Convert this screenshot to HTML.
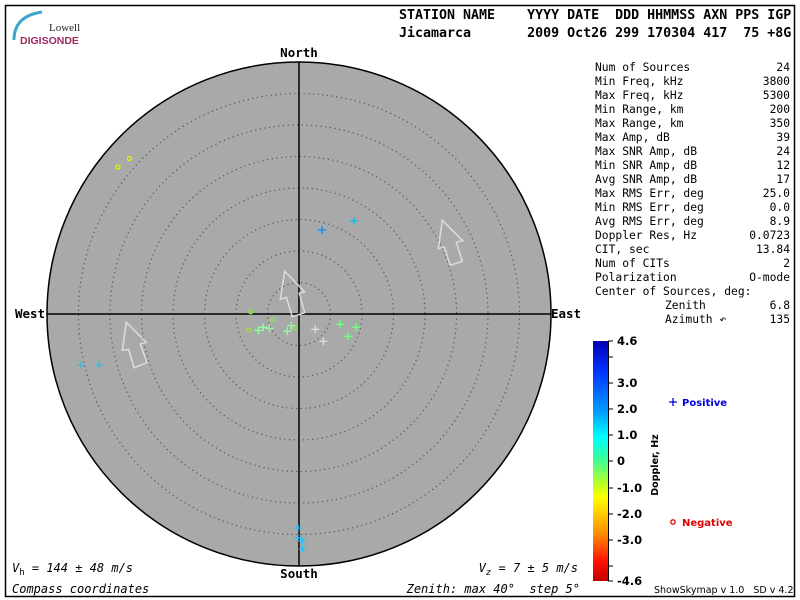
<!DOCTYPE html>
<html><head><meta charset="utf-8"><style>
html,body{margin:0;padding:0;background:#fff}
svg{display:block}
.m{font-family:"DejaVu Sans Mono","Liberation Mono",monospace}
.pre{white-space:pre}
</style></head><body>
<svg width="800" height="600" viewBox="0 0 800 600" xmlns="http://www.w3.org/2000/svg">
<defs>
<linearGradient id="cb" x1="0" y1="0" x2="0" y2="1">
<stop offset="0" stop-color="#0000b0"/>
<stop offset="0.12" stop-color="#0030ff"/>
<stop offset="0.3" stop-color="#00a0ff"/>
<stop offset="0.4" stop-color="#00ffff"/>
<stop offset="0.5" stop-color="#40ff90"/>
<stop offset="0.6" stop-color="#c0ff20"/>
<stop offset="0.65" stop-color="#ffff00"/>
<stop offset="0.8" stop-color="#ff9000"/>
<stop offset="0.92" stop-color="#ff1000"/>
<stop offset="1" stop-color="#c00000"/>
</linearGradient>
</defs>
<rect x="5.5" y="5.5" width="789" height="591" fill="none" stroke="#000" stroke-width="1.5"/>
<!-- logo -->
<path d="M14,40 Q14,16 42,12" fill="none" stroke="#3fa5c8" stroke-width="3"/>
<text x="49" y="31" font-family="Liberation Serif,serif" font-size="11" fill="#222">Lowell</text>
<text x="20" y="44" font-family="Liberation Sans,sans-serif" font-size="10.5" font-weight="bold" fill="#9b2a5e">DIGISONDE</text>
<!-- header -->
<g class="m" font-size="13.3" font-weight="bold" fill="#000">
<text class="pre" x="399" y="19">STATION NAME    YYYY DATE  DDD HHMMSS AXN PPS IGP</text>
<text class="pre" x="399" y="37">Jicamarca       2009 Oct26 299 170304 417  75 +8G</text>
</g>
<!-- plot -->
<circle cx="299" cy="314" r="252" fill="#a9a9a9" stroke="#000" stroke-width="1.5"/>
<g fill="none" stroke="#555" stroke-width="1.2" stroke-dasharray="1.2 3.5">
<circle cx="299" cy="314" r="31.5"/><circle cx="299" cy="314" r="63"/><circle cx="299" cy="314" r="94.5"/><circle cx="299" cy="314" r="126"/><circle cx="299" cy="314" r="157.5"/><circle cx="299" cy="314" r="189"/><circle cx="299" cy="314" r="220.5"/>
</g>
<line x1="47" y1="314" x2="551" y2="314" stroke="#000" stroke-width="1.5"/>
<line x1="299" y1="62" x2="299" y2="566" stroke="#000" stroke-width="1.5"/>
<g class="m" font-size="12.5" font-weight="bold" text-anchor="middle">
<text x="299" y="57">North</text><text x="299" y="578">South</text>
<text x="30" y="318">West</text><text x="566" y="318">East</text>
</g>
<g fill="none" stroke="#dcdcdc" stroke-width="1.5">
<polygon points="284.7,271.3 304.7,291.7 299.3,293.3 304.7,312.7 292.3,316.7 286.3,297.3 280.3,299.3"/>
<polygon points="126.3,322.3 146.3,342.3 140.3,344 147,362.7 134,367.7 128.7,349.3 122.3,350.3"/>
<polygon points="442.3,220.3 462.7,240.7 456.3,242.3 462.3,261.3 450.3,265.3 444.3,247 438.3,248.7"/>
</g>
<!-- points -->
<g fill="none" stroke-width="1.3">
<circle cx="118" cy="167" r="2" stroke="#e0f000"/><circle cx="129.5" cy="158.5" r="2" stroke="#e8f000"/>
<circle cx="250.7" cy="311.7" r="2" stroke="#90e040"/><circle cx="272.7" cy="320" r="2" stroke="#90e060"/>
<circle cx="248.7" cy="330" r="2" stroke="#a0e040"/><circle cx="294.7" cy="327.7" r="2" stroke="#90e060"/>
</g>
<g stroke-width="1.3">
<path d="M318,230h8M322,226v8" stroke="#0090ff"/>
<path d="M350,221h8M354,217v8" stroke="#00c0ff"/>
<path d="M77,365h8M81,361v8M95,365h8M99,361v8" stroke="#40b8e0"/>
<path d="M254.3,330.3h8M258.3,326.3v8M259.3,327.3h8M263.3,323.3v8M265.3,328.3h8M269.3,324.3v8M283.3,331.3h8M287.3,327.3v8M287.3,325.7h8M291.3,321.7v8" stroke="#90ffa0"/>
<path d="M311.3,329.3h8M315.3,325.3v8M319.3,341.3h8M323.3,337.3v8" stroke="#d0e8d0"/>
<path d="M336.3,324.3h8M340.3,320.3v8M344.3,336.3h8M348.3,332.3v8M352.3,327.3h8M356.3,323.3v8" stroke="#70ff80"/>
<path d="M294,528h8M298,524v8M294,538h8M298,534v8M299,541h7M302.5,537.5v7M299,549h7M302.5,545.5v7" stroke="#20c0ff"/>
</g>
<!-- bottom texts -->
<g class="m" font-size="12" font-style="italic" fill="#000">
<text class="pre" x="12" y="572">V<tspan font-size="9" dy="3" font-style="normal">h</tspan><tspan dy="-3"> = 144 ± 48 m/s</tspan></text>
<text x="12" y="593">Compass coordinates</text>
<text class="pre" x="578" y="572" text-anchor="end">V<tspan font-size="9" dy="3">z</tspan><tspan dy="-3"> = 7 ± 5 m/s</tspan></text>
<text class="pre" x="580" y="593" text-anchor="end">Zenith: max 40°  step 5°</text>
</g>
<!-- stats -->
<g class="m" font-size="11.3" fill="#000">
<g><text x="595" y="71">Num of Sources</text><text x="595" y="85">Min Freq, kHz</text><text x="595" y="99">Max Freq, kHz</text><text x="595" y="113">Min Range, km</text><text x="595" y="127">Max Range, km</text><text x="595" y="141">Max Amp, dB</text><text x="595" y="155">Max SNR Amp, dB</text><text x="595" y="169">Min SNR Amp, dB</text><text x="595" y="183">Avg SNR Amp, dB</text><text x="595" y="197">Max RMS Err, deg</text><text x="595" y="211">Min RMS Err, deg</text><text x="595" y="225">Avg RMS Err, deg</text><text x="595" y="239">Doppler Res, Hz</text><text x="595" y="253">CIT, sec</text><text x="595" y="267">Num of CITs</text><text x="595" y="281">Polarization</text><text x="595" y="295">Center of Sources, deg:</text><text x="665" y="309">Zenith</text><text x="665" y="323">Azimuth ↶</text></g>
<g text-anchor="end"><text x="790" y="71">24</text><text x="790" y="85">3800</text><text x="790" y="99">5300</text><text x="790" y="113">200</text><text x="790" y="127">350</text><text x="790" y="141">39</text><text x="790" y="155">24</text><text x="790" y="169">12</text><text x="790" y="183">17</text><text x="790" y="197">25.0</text><text x="790" y="211">0.0</text><text x="790" y="225">8.9</text><text x="790" y="239">0.0723</text><text x="790" y="253">13.84</text><text x="790" y="267">2</text><text x="790" y="281">O-mode</text><text x="790" y="309">6.8</text><text x="790" y="323">135</text></g>
</g>
<!-- colorbar -->
<rect x="593" y="341" width="15" height="240" fill="url(#cb)"/>
<line x1="608.5" y1="341" x2="608.5" y2="581" stroke="#000"/>
<g stroke="#000"><path d="M608,341h5M608,357h5M608,383h5M608,409h5M608,435h5M608,461h5M608,488h5M608,514h5M608,540h5M608,566h5M608,581h5"/></g>
<g font-family="DejaVu Sans,sans-serif" font-size="11.5" font-weight="bold" fill="#000">
<text x="617" y="345">4.6</text><text x="617" y="387">3.0</text><text x="617" y="413">2.0</text><text x="617" y="439">1.0</text><text x="617" y="465">0</text><text x="617" y="492">-1.0</text><text x="617" y="518">-2.0</text><text x="617" y="544">-3.0</text><text x="617" y="585">-4.6</text>
</g>
<text transform="translate(658,465) rotate(-90)" text-anchor="middle" font-family="DejaVu Sans,sans-serif" font-size="9.5" font-weight="bold">Doppler, Hz</text>
<path d="M669,402h8M673,398v8" stroke="#0000e0" stroke-width="1.3"/>
<text x="682" y="406" font-family="DejaVu Sans,sans-serif" font-size="10" font-weight="bold" fill="#0000e0">Positive</text>
<circle cx="673" cy="522" r="2.2" fill="none" stroke="#e00000" stroke-width="1.3"/>
<text x="682" y="526" font-family="DejaVu Sans,sans-serif" font-size="10" font-weight="bold" fill="#e00000">Negative</text>
<text class="pre" x="654" y="593" font-family="DejaVu Sans,sans-serif" font-size="9.5" fill="#000">ShowSkymap v 1.0   SD v 4.2</text>
</svg>
</body></html>
